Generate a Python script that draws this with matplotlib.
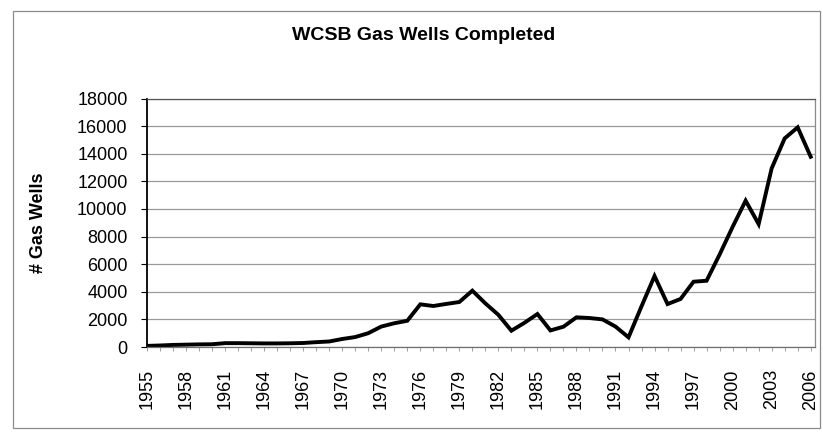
import matplotlib
matplotlib.use('Agg')
import matplotlib.pyplot as plt
from matplotlib.patches import Rectangle

plt.rcParams['font.family'] = ['Liberation Sans', 'DejaVu Sans']

# Data (wells completed per year)
years = list(range(1955, 2007))
gas_wells = [
    80, 110, 150, 170, 190, 200, 280, 280, 270, 260,   # 1955-1964
    260, 270, 290, 350, 400, 580, 720, 1000, 1480, 1720,  # 1965-1974
    1900, 3090, 2970, 3120, 3260, 4080, 3160, 2330, 1180, 1750,  # 1975-1984
    2390, 1200, 1470, 2150, 2100, 2000, 1480, 700, 2950, 5140,  # 1985-1994
    3110, 3480, 4730, 4800, 6700, 8700, 10600, 8900, 12940, 15110,  # 1995-2004
    15910, 13780,  # 2005-2006
]
title = 'WCSB Gas Wells Completed'
y_label = '# Gas Wells'
y_ticks = list(range(0, 18001, 2000))
label_step = 3

W, H = 823, 433
fig = plt.figure(figsize=(W / 100, H / 100), dpi=100)
fig.patch.set_facecolor('white')

# outer chart border
fig.patches.append(Rectangle((13 / W, 1 - 428 / H), (820 - 13) / W, (428 - 11) / H,
                             transform=fig.transFigure, fill=False,
                             edgecolor='#8c8c8c', linewidth=0.9))

# plot area
ax = fig.add_axes([147 / W, 1 - 347 / H, 668 / W, (347 - 98.5) / H])
ax.plot(years, gas_wells, color='black', linewidth=2.8, solid_joinstyle='miter')

ax.set_xlim(years[0], years[-1] + 0.33)
ax.set_ylim(y_ticks[0], y_ticks[-1])
ax.set_yticks(y_ticks)
ax.set_yticklabels([str(v) for v in y_ticks], fontsize=13)
ax.set_xticks(years)
ax.set_xticklabels([str(y) if (y - years[0]) % label_step == 0 else '' for y in years],
                   rotation=90, fontsize=13)

ax.grid(axis='y', color='#9a9a9a', linewidth=0.9)
ax.set_axisbelow(True)

ax.spines['left'].set_color('black')
ax.spines['left'].set_linewidth(1.3)
ax.spines['bottom'].set_color('#707070')
ax.spines['top'].set_color('#555555')
ax.spines['right'].set_color('#8a8a8a')
for s in ['bottom', 'top', 'right']:
    ax.spines[s].set_linewidth(0.9)

ax.tick_params(axis='y', direction='out', length=4, width=0.8, pad=10, colors='black')
ax.tick_params(axis='x', direction='out', length=3, width=0.6, pad=13,
               color='#909090', labelcolor='black')

ax.set_ylabel(y_label, fontsize=13, fontweight='bold')
ax.yaxis.set_label_coords((47 - 147) / 668, 0.5)

fig.text(423.5 / W, 1 - 35 / H, title, ha='center', va='center',
         fontsize=14, fontweight='bold')

fig.savefig('out.png', dpi=100, facecolor='white')
